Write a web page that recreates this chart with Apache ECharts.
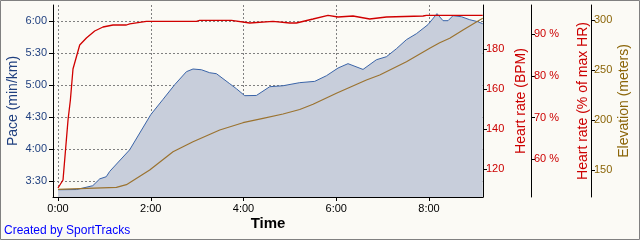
<!DOCTYPE html>
<html>
<head>
<meta charset="utf-8">
<style>
html,body{margin:0;padding:0;background:#FBFAF5;}
#c{width:640px;height:240px;}
</style>
<script src="https://cdn.jsdelivr.net/npm/echarts/dist/echarts.min.js"></script>
</head>
<body>
<div id="c"></div>
<script>
// Time in minutes
const paceTime = [0, 0.4, 0.75, 0.9, 1.04, 1.115, 1.546, 2.0, 2.258, 2.516, 2.769, 2.911, 3.092, 3.271, 3.416, 3.703, 3.847, 4.026, 4.278, 4.565, 4.852, 5.212, 5.535, 5.788, 6.038, 6.253, 6.577, 6.866, 7.081, 7.297, 7.513, 7.728, 7.978, 8.172, 8.302, 8.41, 8.517, 8.699, 8.878, 9.057, 9.158];
// Pace in seconds per km
const paceValues = [201.8, 202, 205.6, 212, 214, 219, 239.3, 272.2, 286.2, 300.3, 312.5, 315, 314.3, 311.5, 310.6, 301.2, 296.5, 290, 290.2, 298.4, 299.3, 302.2, 303.4, 308.7, 315.9, 320, 314.6, 323.7, 326.5, 334, 342.5, 348.1, 356.6, 366.9, 360.3, 360.3, 365, 364, 361.2, 359.3, 357.4];

const hrTime = [0, 0.108, 0.216, 0.267, 0.323, 0.468, 0.612, 0.791, 0.970, 1.186, 1.475, 1.546, 1.906, 2.984, 3.055, 3.739, 4.134, 4.636, 4.996, 5.141, 5.499, 5.822, 6.038, 6.361, 6.721, 7.081, 7.871, 7.944, 9.158];
const hrValues = [110.5, 114.5, 144.5, 154.5, 170, 182, 185.5, 189, 191, 192, 192, 192.6, 193.85, 193.85, 194.35, 194.35, 193, 193.85, 193, 193, 195, 196.85, 196, 196.5, 195, 196, 196.5, 196.85, 196.85];

const elevTime = [0, 1.259, 1.475, 1.977, 2.480, 2.911, 3.487, 3.989, 4.421, 4.852, 5.212, 5.499, 6.003, 6.650, 6.937, 7.513, 8.015, 8.230, 8.446, 8.733, 9.093, 9.158];
const elevValues = [130.7, 132.7, 135.3, 150, 168.3, 178.3, 190, 197.3, 201.7, 206, 210.5, 215.7, 226.7, 240, 245, 258.3, 271.7, 277.3, 281.7, 290, 300, 301.7];

const timeTicks = [0, 2, 4, 6, 8];
const paceTicks = [210, 240, 270, 300, 330, 360];
const hrTicks = [120, 140, 160, 180];
const hrPctTicks = [60, 70, 80, 90];
const elevTicks = [150, 200, 250, 300];

const FONT = 'Liberation Sans';
const BLUE = '#1F3F7F', RED = '#CC0000', BROWN = '#8B6508';

function zip(a, b) { return a.map((v, i) => [v, b[i]]); }
function fmtPace(v) { const m = Math.floor(v / 60), s = Math.round(v - m * 60); return m + ':' + (s < 10 ? '0' : '') + s; }

const chart = echarts.init(document.getElementById('c'), null, {renderer: 'canvas'});
const axisLine = {show: true, onZero: false, lineStyle: {color: '#000', width: 1}};
function yAx(o) {
  return Object.assign({
    type: 'value', nameLocation: 'middle', nameRotate: 90, nameMoveOverlap: false,
    axisLine: axisLine,
    axisTick: {show: true, length: 4, lineStyle: {color: '#000'}},
    splitLine: {show: false}
  }, o);
}
chart.setOption({
  backgroundColor: '#FBFAF5',
  animation: false,
  grid: {left: 53, right: 157, top: 5, bottom: 43, containLabel: false, outerBoundsMode: 'none'},
  xAxis: {
    type: 'value', min: -0.108, max: 9.164,
    name: 'Time', nameLocation: 'middle', nameGap: 19, nameMoveOverlap: false,
    nameTextStyle: {fontFamily: FONT, fontSize: 15, fontWeight: 'bold', color: '#000'},
    axisLine: axisLine,
    axisTick: {show: true, length: 4, customValues: timeTicks, lineStyle: {color: '#000'}},
    axisLabel: {customValues: timeTicks, formatter: v => v + ':00', fontFamily: FONT, fontSize: 11, color: '#000', margin: 6},
    splitLine: {show: true, lineStyle: {type: [2, 2], color: '#808080'}}
  },
  yAxis: [
    yAx({position: 'left', min: 195, max: 375, name: 'Pace (min/km)', nameGap: 33,
      nameTextStyle: {fontFamily: FONT, fontSize: 14, color: BLUE},
      axisTick: {show: true, length: 4, customValues: paceTicks, lineStyle: {color: '#000'}},
      axisLabel: {customValues: paceTicks, formatter: fmtPace, fontFamily: FONT, fontSize: 11, color: BLUE, margin: 6},
      splitLine: {show: true, lineStyle: {type: [2, 2], color: '#808080'}}}),
    yAx({position: 'right', min: 106, max: 202, name: 'Heart rate (BPM)', nameGap: 31,
      nameTextStyle: {fontFamily: FONT, fontSize: 14, color: RED},
      axisTick: {show: true, length: 4, customValues: hrTicks, lineStyle: {color: '#000'}},
      axisLabel: {customValues: hrTicks, fontFamily: FONT, fontSize: 11, color: RED, margin: 3}}),
    yAx({position: 'right', offset: 48, min: 50.95, max: 97.03, name: 'Heart rate (% of max HR)', nameGap: 45,
      nameTextStyle: {fontFamily: FONT, fontSize: 14, color: RED},
      axisTick: {show: true, length: 4, customValues: hrPctTicks, lineStyle: {color: '#000'}},
      axisLabel: {customValues: hrPctTicks, formatter: v => v + ' %', fontFamily: FONT, fontSize: 11, color: RED, margin: 3}}),
    yAx({position: 'right', offset: 108, min: 123, max: 315, name: 'Elevation (meters)', nameGap: 26,
      nameTextStyle: {fontFamily: FONT, fontSize: 14, color: BROWN},
      axisTick: {show: true, length: 4, customValues: elevTicks, lineStyle: {color: '#000'}},
      axisLabel: {customValues: elevTicks, fontFamily: FONT, fontSize: 11, color: BROWN, margin: 3}})
  ],
  series: [
    {type: 'line', yAxisIndex: 0, data: zip(paceTime, paceValues), showSymbol: false, symbol: 'none',
      lineStyle: {color: '#3A64A8', width: 1}, areaStyle: {color: '#C8CEDB', opacity: 1, origin: 'start'}, z: 2},
    {type: 'line', yAxisIndex: 3, data: zip(elevTime, elevValues), showSymbol: false, symbol: 'none',
      lineStyle: {color: '#9B7330', width: 1.2}, z: 3},
    {type: 'line', yAxisIndex: 1, data: zip(hrTime, hrValues), showSymbol: false, symbol: 'none',
      lineStyle: {color: '#D00000', width: 1.3}, z: 4}
  ],
  graphic: [
    {type: 'text', left: 4, top: 225, style: {text: 'Created by SportTracks', fill: '#0000FF', font: '12px "Liberation Sans"'}},
    {type: 'rect', shape: {x: 0.5, y: 0.5, width: 639, height: 239}, style: {fill: null, stroke: '#808080', lineWidth: 1}, silent: true, z: 100}
  ]
});
</script>
</body>
</html>
